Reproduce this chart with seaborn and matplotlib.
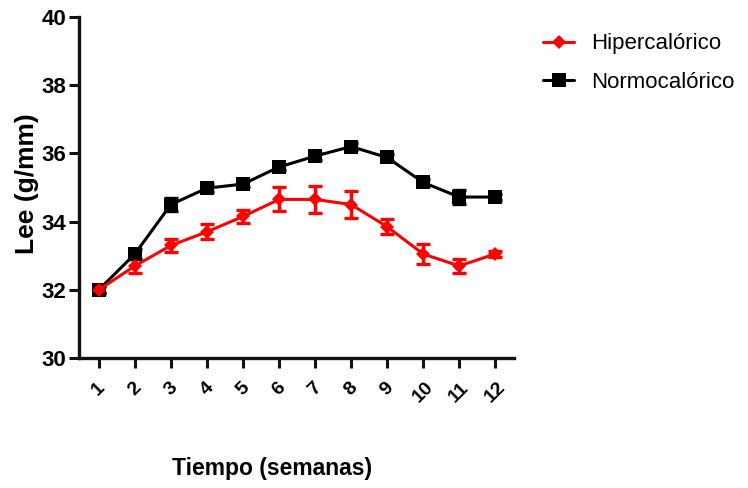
import numpy as np
import pandas as pd
import matplotlib
matplotlib.use("Agg")
import matplotlib.pyplot as plt
import seaborn as sns

sns.set_theme(style="ticks")
plt.rcParams["font.family"] = ["Liberation Sans", "DejaVu Sans"]
plt.rcParams["text.color"] = "black"
plt.rcParams["axes.labelcolor"] = "black"
plt.rcParams["xtick.color"] = "black"
plt.rcParams["ytick.color"] = "black"

semanas = [1, 2, 3, 4, 5, 6, 7, 8, 9, 10, 11, 12]
hiper = [32.0, 32.7, 33.3, 33.7, 34.15, 34.65, 34.65, 34.5, 33.85, 33.05, 32.7, 33.05]
hiper_err = [0.1, 0.2, 0.2, 0.22, 0.18, 0.35, 0.4, 0.4, 0.22, 0.28, 0.2, 0.1]
normo = [32.0, 33.05, 34.5, 34.98, 35.1, 35.6, 35.92, 36.2, 35.88, 35.15, 34.72, 34.72]
normo_err = [0.1, 0.15, 0.2, 0.12, 0.1, 0.1, 0.1, 0.1, 0.1, 0.1, 0.2, 0.1]
grupos = ["Hipercalórico", "Normocalórico"]

df = pd.DataFrame({
    "semana": semanas * 2,
    "lee": hiper + normo,
    "err": hiper_err + normo_err,
    "grupo": [grupos[0]] * 12 + [grupos[1]] * 12,
})

fig = plt.figure(figsize=(7.48, 4.88), dpi=100)
ax = fig.add_axes([0.1056, 0.2664, 0.582, 0.6988])

colores = {"Hipercalórico": "#ff0000", "Normocalórico": "#000000"}
marcas = {"Hipercalórico": "D", "Normocalórico": "s"}
tam_marca = {"Hipercalórico": 7.5, "Normocalórico": 10.5}

# error bars first so the lines sit on top
for g in grupos:
    sub = df[df["grupo"] == g]
    ax.errorbar(sub["semana"], sub["lee"], yerr=sub["err"], fmt="none",
                ecolor=colores[g], elinewidth=2.4, capsize=5, capthick=2.4, zorder=2)

sns.lineplot(data=df, x="semana", y="lee", hue="grupo", style="grupo",
             palette=colores, markers=marcas, dashes=False, errorbar=None,
             linewidth=2.2, markersize=10, markeredgewidth=0, ax=ax, zorder=3,
             hue_order=grupos[::-1], style_order=grupos[::-1])

ax.set_xlim(0.45, 12.53)
ax.set_ylim(30, 40)
yticks = [30, 32, 34, 36, 38, 40]
ax.set_yticks(yticks)
ax.set_xticks(semanas)
ax.set_xticklabels([str(s) for s in semanas], rotation=45, ha="center",
                   fontsize=14, fontweight="bold")
ax.set_yticklabels([str(v) for v in yticks], fontsize=16, fontweight="bold")
ax.tick_params(axis="both", width=2.2, length=7, direction="out", color="#111111")
ax.tick_params(axis="x", pad=8)
ax.tick_params(axis="y", pad=2)
for s in ["left", "bottom"]:
    ax.spines[s].set_linewidth(2.4)
    ax.spines[s].set_color("#111111")
sns.despine(ax=ax)

ax.set_xlabel("Tiempo (semanas)", fontsize=16.5, fontweight="bold")
ax.xaxis.set_label_coords(0.443, -0.29)
ax.set_ylabel("Lee (g/mm)", fontsize=19, fontweight="bold")
ax.yaxis.set_label_coords(-0.092, 0.51)

# legend handles from the plotted lines, with per-group marker sizes
handles, labels = ax.get_legend_handles_labels()
for h, l in zip(handles, labels):
    h.set_markersize(tam_marca.get(l, 9))
for line in ax.lines:
    if line.get_marker() == "D":
        line.set_markersize(tam_marca["Hipercalórico"])
order = [labels.index(g) for g in grupos]
ax.legend([handles[i] for i in order], [labels[i] for i in order],
          loc="upper left", bbox_to_anchor=(0.714, 0.95),
          bbox_transform=fig.transFigure, frameon=False, fontsize=16,
          handlelength=1.4, handletextpad=0.75, labelspacing=0.78, borderaxespad=0)

fig.savefig("out.png", dpi=100)
